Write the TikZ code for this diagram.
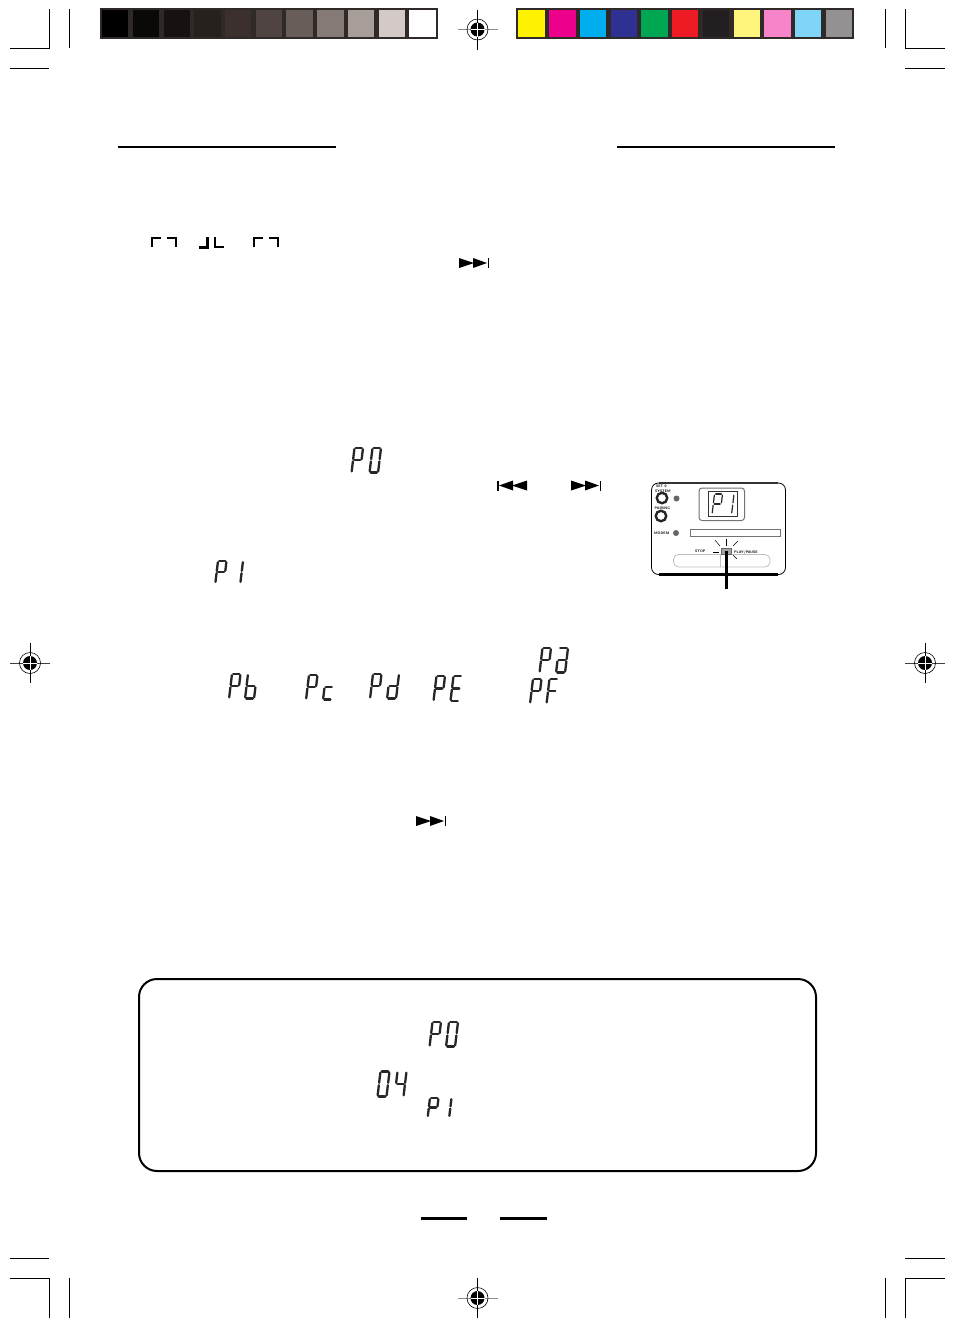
\documentclass[tikz,border=0pt]{standalone}
\usepackage{tikz}
\usetikzlibrary{arrows.meta, calc, positioning}
\usepackage{xcolor}
\definecolor{BarFrame}{HTML}{2F2A28}
\definecolor{KeyA}{HTML}{000000}
\definecolor{KeyB}{HTML}{0A0908}
\definecolor{KeyC}{HTML}{151210}
\definecolor{KeyD}{HTML}{26211D}
\definecolor{KeyE}{HTML}{3B302E}
\definecolor{KeyF}{HTML}{4F4441}
\definecolor{KeyG}{HTML}{695D59}
\definecolor{KeyH}{HTML}{857A75}
\definecolor{KeyI}{HTML}{A79E99}
\definecolor{KeyJ}{HTML}{D3CAC8}
\definecolor{KeyK}{HTML}{FFFFFF}
\definecolor{InkYellow}{HTML}{FFF200}
\definecolor{InkMagenta}{HTML}{EC008C}
\definecolor{InkCyan}{HTML}{00AEEF}
\definecolor{InkBlue}{HTML}{2E3192}
\definecolor{InkGreen}{HTML}{00A651}
\definecolor{InkRed}{HTML}{ED1C24}
\definecolor{InkBlack}{HTML}{231F20}
\definecolor{TintYellow}{HTML}{FFF57C}
\definecolor{TintMagenta}{HTML}{F783C8}
\definecolor{TintCyan}{HTML}{7FD5F7}
\definecolor{TintBlack}{HTML}{939191}
\tikzset{%
  crop_line/.style={%
    color=black,%
    line width=1pt,%
  },
  rule_line/.style={%
    color=black,%
    line width=2pt,%
  },
  bar_frame/.style={%
    fill=BarFrame,%
  },
  lcd_seg/.style={%
    color=black!85,%
    line width=2.3pt,%
    line cap=round,%
    shorten >=1.2pt,%
    shorten <=1.2pt,%
  },
  panel_grey/.style={%
    color=black!55,%
    line width=1pt,%
  },
  panel_label/.style={%
    font={\fontsize{3.6}{3.6}\sffamily\bfseries},%
    inner sep=0pt,%
  },
  panel_knob/.style={%
    circle,%
    draw=black!85,%
    line width=2.4pt,%
    minimum size=10.5pt,%
    inner sep=0pt,%
  },
  panel_led/.style={%
    circle,%
    fill=black!60,%
    minimum size=6pt,%
    inner sep=0pt,%
  },
  skip_next/.pic={%
    \fill [black] (0,0) -- (15,5) -- (0,10) -- cycle;
    \fill [black] (14,0) -- (28,5) -- (14,10) -- cycle;
    \fill [black] (28.5,0) rectangle (30,10);
  },
}
% segment lists for the display characters
\def\glyphP{tl/tr,tr/mr,ml/mr,tl/ml,ml/bl}
\def\glyphO{tl/tr,tr/mr,mr/br,bl/br,ml/bl,tl/ml}
\def\glyphI{tr/mr,mr/br}
\def\glyphA{tl/tr,tr/mr,mr/br,bl/br,ml/bl,ml/mr}
\def\glyphB{tl/ml,ml/bl,bl/br,mr/br,ml/mr}
\def\glyphC{ml/mr,ml/bl,bl/br}
\def\glyphD{tr/mr,mr/br,bl/br,ml/bl,ml/mr}
\def\glyphE{tl/tr,tl/ml,ml/mr,ml/bl,bl/br}
\def\glyphF{tl/tr,tl/ml,ml/mr,ml/bl}
\def\glyphFour{tl/ml,ml/mr,tr/mr,mr/br}
% left, top, width, height, segments
\newcommand{\lcdchar}[5]{%
  \begin{scope}[shift={(#1,#2)}, xslant=0.12]
    \coordinate (tl) at (0,0);
    \coordinate (tr) at (#3,0);
    \coordinate (ml) at (0,#4/2);
    \coordinate (mr) at (#3,#4/2);
    \coordinate (bl) at (0,#4);
    \coordinate (br) at (#3,#4);
    \foreach \p/\q in #5 {
      \draw [lcd_seg] (\p) -- (\q);
    }
  \end{scope}%
}

\begin{document}
\begin{tikzpicture}[x=1pt, y=-1pt]

    \path [fill=white, use as bounding box] (0,0) rectangle (954,1328);

    % colour bars
    \fill [bar_frame] (100,8) rectangle (438,39);
    \foreach \px/\pw/\col in {102/26/KeyA, 133/26/KeyB, 164/26/KeyC, 194/27/KeyD,
      225/26/KeyE, 256/26/KeyF, 286/27/KeyG, 317/27/KeyH, 348/26/KeyI,
      379/26/KeyJ, 409/27/KeyK} {
      \fill [\col] (\px,10) rectangle +(\pw,27);
    }
    \fill [bar_frame] (516,8) rectangle (854,39);
    \foreach \px/\pw/\col in {518/27/InkYellow, 549/27/InkMagenta, 580/26/InkCyan,
      611/26/InkBlue, 641/27/InkGreen, 672/26/InkRed, 703/26/InkBlack,
      734/26/TintYellow, 764/27/TintMagenta, 795/26/TintCyan, 826/26/TintBlack} {
      \fill [\col] (\px,10) rectangle +(\pw,27);
    }

    % crop marks
    \draw [crop_line] (10,48) -| (49.5,9);
    \draw [crop_line] (69.5,9) -- (69.5,48);
    \draw [crop_line] (10,68) -- (49,68);
    \draw [crop_line] (945,48) -| (905.5,9);
    \draw [crop_line] (885.5,9) -- (885.5,48);
    \draw [crop_line] (945,68) -- (905,68);
    \draw [crop_line] (10,1278.5) -| (49.5,1318);
    \draw [crop_line] (69.5,1278) -- (69.5,1318);
    \draw [crop_line] (10,1258.5) -- (49,1258.5);
    \draw [crop_line] (945,1278.5) -| (905.5,1318);
    \draw [crop_line] (885.5,1278) -- (885.5,1318);
    \draw [crop_line] (945,1258.5) -- (905,1258.5);

    % registration marks
    \foreach \mx/\my/\hcol in {477.5/29.5/black!45, 477.5/1298/black!45,
      30/663/black!75, 925/663/black!75} {
      \draw [\hcol, line width=0.8pt] (\mx-20,\my) -- (\mx+20,\my);
      \draw [black, line width=0.6pt] (\mx,\my-20) -- (\mx,\my+20);
      \draw [black, line width=0.6pt] (\mx,\my) circle (10.5);
      \fill [black] (\mx,\my) circle (7);
      \draw [white, line width=1pt] (\mx-7,\my) -- (\mx+7,\my);
      \draw [white, line width=1pt] (\mx,\my-7) -- (\mx,\my+7);
    }

    % rules
    \draw [rule_line] (118,146.5) -- (336,146.5);
    \draw [rule_line] (617,146.5) -- (835,146.5);
    \draw [rule_line, line width=3pt] (421,1218.5) -- (467,1218.5);
    \draw [rule_line, line width=3pt] (500,1218.5) -- (547,1218.5);

    % bracket marks
    \foreach \cx in {152, 254} {
      \draw [line width=2.3pt] (\cx,247) |- +(9,-9);
      \draw [line width=2.3pt] (\cx+15,238) -| +(9,9);
    }
    \draw [line width=3pt] (199,247) -| (207,237);
    \draw [line width=1.6pt] (215,237) |- (224,247);

    % transport icons
    \pic at (459,258) {skip_next};
    \pic at (571,480.5) {skip_next};
    \pic at (416,816) {skip_next};
    \pic [xscale=-1] at (527,480.5) {skip_next};

    % display characters in the text
    \lcdchar{354.5}{448}{8.5}{24.5}{\glyphP}
    \lcdchar{372.5}{448}{8.5}{24.5}{\glyphO}
    \lcdchar{218}{561}{8.5}{22}{\glyphP}
    \lcdchar{234}{561}{9}{22}{\glyphI}
    \lcdchar{232}{674}{8.5}{24.5}{\glyphP}
    \lcdchar{248}{674}{9}{24.5}{\glyphB}
    \lcdchar{309}{675}{8.5}{24.5}{\glyphP}
    \lcdchar{326}{675}{8.5}{24.5}{\glyphC}
    \lcdchar{373}{674}{8.5}{24.5}{\glyphP}
    \lcdchar{390}{674}{9}{24.5}{\glyphD}
    \lcdchar{436.5}{676}{8.5}{25}{\glyphP}
    \lcdchar{453.5}{676}{8.5}{25}{\glyphE}
    \lcdchar{542.5}{648}{8.5}{24.5}{\glyphP}
    \lcdchar{559}{648}{9}{24.5}{\glyphA}
    \lcdchar{533}{679}{8.5}{24.5}{\glyphP}
    \lcdchar{549.5}{679}{8.5}{24.5}{\glyphF}

    % note box
    \draw [line width=2pt, rounded corners=18] (139,979) rectangle (816,1171);
    \lcdchar{432.5}{1022}{8.5}{24.5}{\glyphP}
    \lcdchar{449}{1022}{9}{24.5}{\glyphO}
    \lcdchar{380.5}{1071.5}{9}{25}{\glyphO}
    \lcdchar{397.5}{1071.5}{9}{25}{\glyphFour}
    \lcdchar{430}{1098}{8.5}{19}{\glyphP}
    \lcdchar{443}{1098}{8.5}{19}{\glyphI}

    % front panel
    \draw [line width=0.8pt, rounded corners=7] (651.5,483) rectangle (785.5,574.5);
    \draw [line width=1.8pt, black!80] (659,483) -- (778,483);
    \draw [line width=2.4pt] (659,574.5) -- (778,574.5);
    \node [panel_knob] (knob_system) at (662,498) {};
    \node [panel_knob] (knob_pairing) at (661,516) {};
    \node [panel_led] (led_system) at (676.5,498.5) {};
    \node [panel_led] (led_modem) at (676,533) {};
    \node [panel_label, anchor=west] (label_set) at (656,486) {SET 0};
    \node [panel_label, anchor=west] (label_system) at (655,491) {SYSTEM};
    \node [panel_label, anchor=west] (label_pairing) at (654.5,508) {PAIRING};
    \node [panel_label, anchor=west] (label_modem) at (654,533) {MODEM};
    \draw [panel_grey, rounded corners=3] (699,488) rectangle (744.5,520.5);
    \draw [line width=0.6pt, black!80] (708,491.5) rectangle (737,516);
    \begin{scope}[lcd_seg/.append style={line width=1.2pt}]
      \lcdchar{714.5}{494}{8}{20}{\glyphP}
      \lcdchar{725}{494}{9}{20}{\glyphI}
    \end{scope}
    \draw [panel_grey] (690.5,529.5) rectangle (780,536);
    \draw [black!25, line width=0.8pt, rounded corners=5] (673.5,554.5) rectangle (770,567);
    \draw [black!25, line width=0.8pt] (720,554.5) -- (720,567);
    \node [panel_label, anchor=west] (label_stop) at (695,551) {STOP};
    \node [panel_label, anchor=west] (label_play) at (734,552.5) {PLAY/PAUSE};
    \node [draw=black!60, fill=black!35, minimum width=10pt, minimum height=6pt,
      inner sep=0pt, line width=0.8pt] (play_btn) at (726.5,551) {};
    \coordinate (pointer_end) at (726.5,589);
    \draw [line width=2.4pt] (play_btn.center) -- (pointer_end);
    \foreach \rx/\ry/\sx/\sy in {726/539/726/546, 715/540/720/546, 738/541/733/546,
      713/552/719/552, 733/555/737/559} {
      \draw [black, line width=0.5pt] (\rx,\ry) -- (\sx,\sy);
    }

\end{tikzpicture}
\end{document}
